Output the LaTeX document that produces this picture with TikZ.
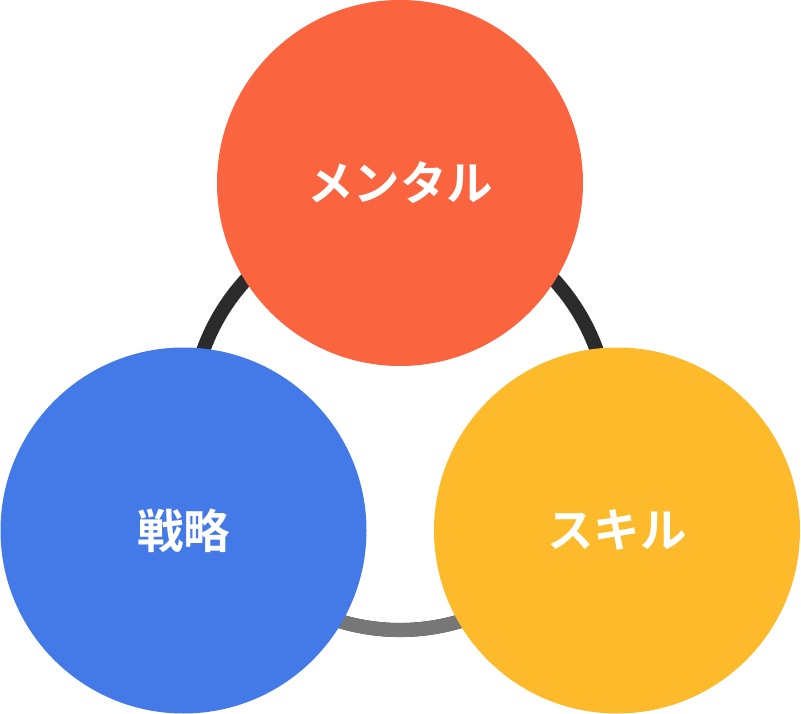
\documentclass[tikz,border=0pt]{standalone}
\usepackage{fontspec}
\newfontfamily\cjk{Noto Sans CJK JP Bold}
\definecolor{cred}{HTML}{FA643F}
\definecolor{cblue}{HTML}{4479E8}
\definecolor{cyel}{HTML}{FDBB2B}
\definecolor{cdark}{HTML}{2B2B2B}
\definecolor{cgray}{HTML}{777777}
\begin{document}
\begin{tikzpicture}[x=1pt,y=-1pt,
  ball/.style={circle,minimum size=366pt,inner sep=0pt,text=white,font=\cjk\fontsize{46.5}{50}\selectfont},
  ring/.style={line width=14pt}]
\useasboundingbox (0,0) rectangle (801,714);
\coordinate (rc) at (400,421);
\draw[ring,cdark] (rc) circle[radius=209];
\draw[ring,cgray] (rc) ++(20:209) arc[start angle=20,end angle=160,radius=209];
\node[ball,fill=cred] (m) at (400,183) {メンタル};
\node[ball,fill=cblue] (s) at (183.5,530.5) {戦略};
\node[ball,fill=cyel] (k) at (617,530.5) {スキル};
\end{tikzpicture}
\end{document}
